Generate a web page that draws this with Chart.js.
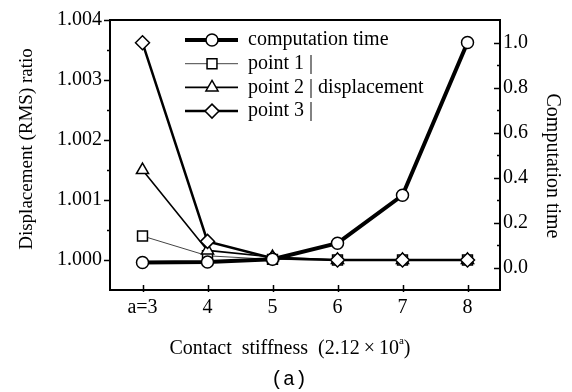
<!DOCTYPE html>
<html>
<head>
<meta charset="utf-8">
<script src="https://cdn.jsdelivr.net/npm/chart.js@4/dist/chart.umd.min.js"></script>
<style>
  html, body { margin: 0; padding: 0; background: #fff; }
  #wrap { width: 572px; height: 392px; }
</style>
</head>
<body>
<div id="wrap"><canvas id="chart" width="572" height="392"></canvas></div>
<script>
    "use strict";

    // data
    var stiffness = [3, 4, 5, 6, 7, 8];
    var compTime = [0.022, 0.024, 0.037, 0.108, 0.321, 1.0];
    var point1 = [1.0004, 1.00007, 1.00001, 1.0000, 1.0000, 1.0000];
    var point2 = [1.0015, 1.00016, 1.00005, 1.0000, 1.0000, 1.0000];
    var point3 = [1.00362, 1.00031, 1.00003, 1.0000, 1.0000, 1.0000];

    var xTicks = [3, 4, 5, 6, 7, 8];
    var leftTicks = [1.000, 1.001, 1.002, 1.003, 1.004];
    var leftMinor = [1.0005, 1.0015, 1.0025, 1.0035];
    var rightTicks = [0.0, 0.2, 0.4, 0.6, 0.8, 1.0];
    var rightMinor = [0.1, 0.3, 0.5, 0.7, 0.9];

    var legendLabels = ["computation time", "point 1 |", "point 2 | displacement", "point 3 |"];

    var serif = "'Liberation Serif', 'Times New Roman', serif";

    function pairs(ys) {
        return stiffness.map(function (x, i) { return {x: x, y: ys[i]}; });
    }

    // frame, tick marks, legend and titles
    var decor = {
        id: "decor",
        beforeDatasetsDraw: function (chart) {
            var ctx = chart.ctx, a = chart.chartArea;
            var sx = chart.scales.x, sy = chart.scales.y, sy1 = chart.scales.y1;
            ctx.save();
            ctx.strokeStyle = "#000";
            ctx.lineWidth = 2;
            ctx.strokeRect(a.left, a.top, a.right - a.left, a.bottom - a.top);
            ctx.lineWidth = 1.5;
            ctx.beginPath();
            leftTicks.forEach(function (v) {
                var y = Math.round(sy.getPixelForValue(v)) + 0.5;
                ctx.moveTo(a.left - 6, y); ctx.lineTo(a.left, y);
            });
            leftMinor.forEach(function (v) {
                var y = Math.round(sy.getPixelForValue(v)) + 0.5;
                ctx.moveTo(a.left - 3, y); ctx.lineTo(a.left, y);
            });
            rightTicks.forEach(function (v) {
                var y = Math.round(sy1.getPixelForValue(v)) + 0.5;
                ctx.moveTo(a.right - 6, y); ctx.lineTo(a.right, y);
            });
            rightMinor.forEach(function (v) {
                var y = Math.round(sy1.getPixelForValue(v)) + 0.5;
                ctx.moveTo(a.right - 3, y); ctx.lineTo(a.right, y);
            });
            xTicks.forEach(function (v) {
                var x = Math.round(sx.getPixelForValue(v)) + 0.5;
                ctx.moveTo(x, a.bottom - 5); ctx.lineTo(x, a.bottom + 2);
            });
            ctx.stroke();
            ctx.restore();
        },
        afterDraw: function (chart) {
            var ctx = chart.ctx;
            ctx.save();
            ctx.fillStyle = "#000";

            // legend
            chart.data.datasets.forEach(function (ds, i) {
                var y = 40 + i * 23.7;
                ctx.strokeStyle = ds.borderColor;
                ctx.lineWidth = ds.borderWidth;
                ctx.beginPath();
                ctx.moveTo(185, y); ctx.lineTo(238, y);
                ctx.stroke();
                ctx.fillStyle = "#fff";
                ctx.strokeStyle = "#000";
                ctx.lineWidth = ds.pointBorderWidth;
                Chart.helpers.drawPoint(ctx, {
                    pointStyle: ds.pointStyle, radius: ds.pointRadius, rotation: 0,
                    borderWidth: ds.pointBorderWidth
                }, 212, y);
                ctx.fillStyle = "#000";
                ctx.font = "20px " + serif;
                ctx.textAlign = "left";
                ctx.textBaseline = "middle";
                ctx.fillText(legendLabels[i], 248, y);
            });

            // left title
            ctx.save();
            ctx.translate(27, 149);
            ctx.rotate(-Math.PI / 2);
            ctx.font = "19px " + serif;
            ctx.textAlign = "center";
            ctx.textBaseline = "middle";
            ctx.fillText("Displacement (RMS) ratio", 0, 0);
            ctx.restore();

            // right title
            ctx.save();
            ctx.translate(552, 166);
            ctx.rotate(Math.PI / 2);
            ctx.font = "20px " + serif;
            ctx.textAlign = "center";
            ctx.textBaseline = "middle";
            ctx.fillText("Computation time", 0, 0);
            ctx.restore();

            // bottom title with superscript a
            ctx.textAlign = "left";
            ctx.textBaseline = "alphabetic";
            var main = "Contact  stiffness  (2.12\u2009\u00d7\u200910";
            ctx.font = "20px " + serif;
            var w1 = ctx.measureText(main).width;
            ctx.font = "11px " + serif;
            var w2 = ctx.measureText("a").width;
            ctx.font = "20px " + serif;
            var w3 = ctx.measureText(")").width;
            var x0 = 290 - (w1 + w2 + w3) / 2;
            ctx.fillText(main, x0, 354);
            ctx.font = "11px " + serif;
            ctx.fillText("a", x0 + w1, 344);
            ctx.font = "20px " + serif;
            ctx.fillText(")", x0 + w1 + w2, 354);

            // panel label
            ctx.font = "20px 'Liberation Mono', monospace";
            ctx.textAlign = "center";
            ctx.textBaseline = "middle";
            ctx.fillText("(a)", 289, 380);
            ctx.restore();
        }
    };

    var ctx1 = document.getElementById("chart").getContext("2d");
    var myChart1 = new Chart(ctx1, {
        type: "line",
        data: {
            datasets: [{
                    label: "computation time",
                    data: pairs(compTime),
                    yAxisID: "y1",
                    borderColor: "#000",
                    borderWidth: 4,
                    pointStyle: "circle",
                    pointRadius: 6,
                    pointBorderWidth: 1.5,
                    pointBackgroundColor: "#fff",
                    pointBorderColor: "#000",
                    order: 0
                },
                {
                    label: "point 1",
                    data: pairs(point1),
                    yAxisID: "y",
                    borderColor: "#444",
                    borderWidth: 1,
                    pointStyle: "rect",
                    pointRadius: 7,
                    pointBorderWidth: 1.5,
                    pointBackgroundColor: "#fff",
                    pointBorderColor: "#000",
                    order: 3
                },
                {
                    label: "point 2",
                    data: pairs(point2),
                    yAxisID: "y",
                    borderColor: "#000",
                    borderWidth: 1.6,
                    pointStyle: "triangle",
                    pointRadius: 7,
                    pointBorderWidth: 1.5,
                    pointBackgroundColor: "#fff",
                    pointBorderColor: "#000",
                    order: 2
                },
                {
                    label: "point 3",
                    data: pairs(point3),
                    yAxisID: "y",
                    borderColor: "#000",
                    borderWidth: 2.5,
                    pointStyle: "rectRot",
                    pointRadius: 7,
                    pointBorderWidth: 1.5,
                    pointBackgroundColor: "#fff",
                    pointBorderColor: "#000",
                    order: 1
                }
            ]
        },
        options: {
            responsive: false,
            animation: false,
            layout: { padding: { top: 16, left: 0, right: 0, bottom: 0 } },
            plugins: {
                legend: { display: false },
                tooltip: { enabled: false }
            },
            scales: {
                x: {
                    type: "linear",
                    min: 2.5,
                    max: 8.5,
                    grid: { display: false, drawTicks: false },
                    border: { display: false },
                    afterBuildTicks: function (s) { s.ticks = xTicks.map(function (v) { return {value: v}; }); },
                    afterFit: function (s) { s.height = 102; },
                    ticks: {
                        color: "#000",
                        padding: 6,
                        maxRotation: 0,
                        font: { family: serif, size: 20 },
                        callback: function (v) { return v === 3 ? "a=3" : String(v); }
                    }
                },
                y: {
                    position: "left",
                    min: 0.9995,
                    max: 1.004,
                    grid: { display: false, drawTicks: false },
                    border: { display: false },
                    afterBuildTicks: function (s) { s.ticks = leftTicks.map(function (v) { return {value: v}; }); },
                    afterFit: function (s) { s.width = 110; },
                    ticks: {
                        color: "#000",
                        padding: 8,
                        font: { family: serif, size: 20 },
                        callback: function (v) { return v.toFixed(3); }
                    }
                },
                y1: {
                    position: "right",
                    min: -0.1,
                    max: 1.1,
                    grid: { display: false, drawTicks: false },
                    border: { display: false },
                    afterBuildTicks: function (s) { s.ticks = rightTicks.map(function (v) { return {value: v}; }); },
                    afterFit: function (s) { s.width = 72; },
                    ticks: {
                        color: "#000",
                        padding: 3,
                        font: { family: serif, size: 20 },
                        callback: function (v) { return v.toFixed(1); }
                    }
                }
            }
        },
        plugins: [decor]
    });
</script>
</body>
</html>
